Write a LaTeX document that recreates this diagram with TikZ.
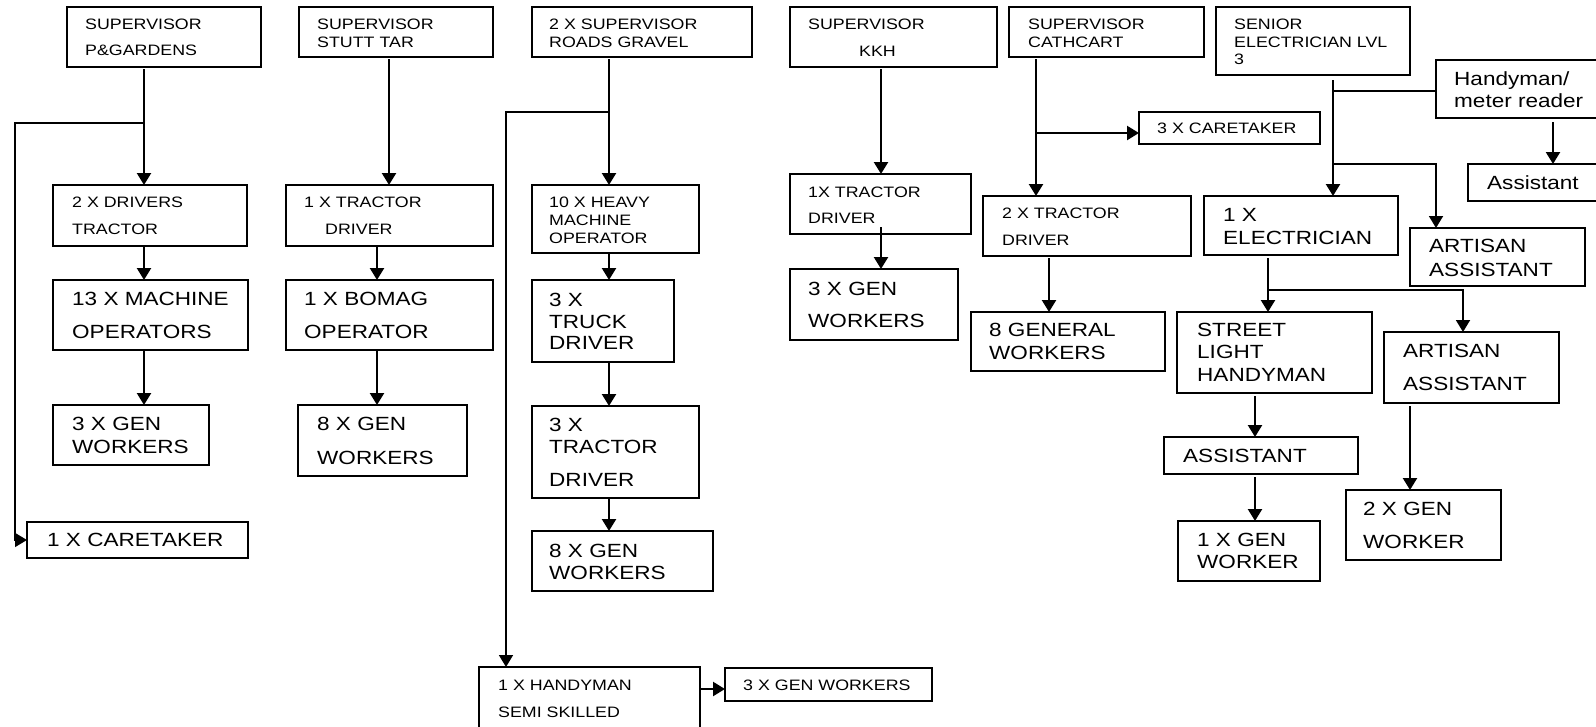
\documentclass[tikz,border=0pt]{standalone}
\usepackage{fontspec}
\setmainfont{Liberation Sans}[FakeStretch=1.18]
\usetikzlibrary{arrows.meta}

\tikzset{
  x=1pt, y=-1pt,
  box/.style={draw=black, line width=1.3pt, fill=white, inner sep=0pt, outer sep=0pt, anchor=north west},
  sm/.style={font=\fontsize{15.1}{18}\selectfont, inner sep=0pt, anchor=base west, yshift=-5.4pt},
  lg/.style={font=\fontsize{19.1}{23}\selectfont, inner sep=0pt, anchor=base west, yshift=-6.8pt},
  headtip/.style={-{Triangle[length=12pt 0 0,width=14pt 0 0]}},
  arr/.style={line width=2.3pt, headtip},
  link/.style={line width=1.4pt},
}

% box: name, left, top, right, bottom
\newcommand\orgbox[5]{\node[box, minimum width={(#4-#2)*1pt}, minimum height={(#5-#3)*1pt}] (#1) at (#2,#3) {};}
% one text line: name, style, x, y (middle of capitals), text
\newcommand\tline[5]{\node[#2] (#1) at (#3,#4) {#5};}

\begin{document}
\begin{tikzpicture}
\useasboundingbox (0,0) rectangle (1596,726);
\fill[white] (0,0) rectangle (1596,726);
\clip (0,0) rectangle (1596,726);

% ---------- Parks & gardens ----------
\orgbox{b1}{67}{7}{261}{67}
\tline{b1a}{sm}{85}{24}{SUPERVISOR}
\tline{b1b}{sm}{85}{50}{P\&GARDENS}
\orgbox{b2}{53}{185}{247}{246}
\tline{b2a}{sm}{72}{202}{2 X DRIVERS}
\tline{b2b}{sm}{72}{229}{TRACTOR}
\orgbox{b3}{53}{280}{248}{350}
\tline{b3a}{lg}{72}{299}{13 X MACHINE}
\tline{b3b}{lg}{72}{332}{OPERATORS}
\orgbox{b4}{53}{405}{209}{465}
\tline{b4a}{lg}{72}{424}{3 X GEN}
\tline{b4b}{lg}{72}{447}{WORKERS}
\orgbox{b5}{27}{522}{248}{558}
\tline{b5a}{lg}{47}{540}{1 X CARETAKER}

% ---------- Stutt tar ----------
\orgbox{c1}{299}{7}{493}{57}
\tline{c1a}{sm}{317}{24}{SUPERVISOR}
\tline{c1b}{sm}{317}{42}{STUTT TAR}
\orgbox{c2}{286}{185}{493}{246}
\tline{c2a}{sm}{304}{202}{1 X TRACTOR}
\tline{c2b}{sm}{325}{229}{DRIVER}
\orgbox{c3}{286}{280}{493}{350}
\tline{c3a}{lg}{304}{299}{1 X BOMAG}
\tline{c3b}{lg}{304}{332}{OPERATOR}
\orgbox{c4}{298}{405}{467}{476}
\tline{c4a}{lg}{317}{424}{8 X GEN}
\tline{c4b}{lg}{317}{458}{WORKERS}

% ---------- Roads gravel ----------
\orgbox{r1}{532}{7}{752}{57}
\tline{r1a}{sm}{549}{24}{2 X SUPERVISOR}
\tline{r1b}{sm}{549}{42}{ROADS GRAVEL}
\orgbox{r2}{532}{185}{699}{253}
\tline{r2a}{sm}{549}{202}{10 X HEAVY}
\tline{r2b}{sm}{549}{220}{MACHINE}
\tline{r2c}{sm}{549}{238}{OPERATOR}
\orgbox{r3}{532}{280}{674}{362}
\tline{r3a}{lg}{549}{300}{3 X}
\tline{r3b}{lg}{549}{322}{TRUCK}
\tline{r3c}{lg}{549}{343}{DRIVER}
\orgbox{r4}{532}{406}{699}{498}
\tline{r4a}{lg}{549}{425}{3 X}
\tline{r4b}{lg}{549}{447}{TRACTOR}
\tline{r4c}{lg}{549}{480}{DRIVER}
\orgbox{r5}{532}{531}{713}{591}
\tline{r5a}{lg}{549}{551}{8 X GEN}
\tline{r5b}{lg}{549}{573}{WORKERS}
\orgbox{r6}{479}{667}{700}{745}
\tline{r6a}{sm}{498}{685}{1 X HANDYMAN}
\tline{r6b}{sm}{498}{712}{SEMI SKILLED}
\orgbox{r7}{725}{668}{932}{701}
\tline{r7a}{sm}{743}{685}{3 X GEN WORKERS}

% ---------- KKH ----------
\orgbox{k1}{790}{7}{997}{67}
\tline{k1a}{sm}{808}{24}{SUPERVISOR}
\tline{k1b}{sm}{859}{51}{KKH}
\orgbox{k2}{790}{174}{971}{234}
\tline{k2a}{sm}{808}{192}{1X TRACTOR}
\tline{k2b}{sm}{808}{218}{DRIVER}
\orgbox{k3}{790}{269}{958}{340}
\tline{k3a}{lg}{808}{289}{3 X GEN}
\tline{k3b}{lg}{808}{321}{WORKERS}

% ---------- Cathcart ----------
\orgbox{t1}{1009}{7}{1204}{57}
\tline{t1a}{sm}{1028}{24}{SUPERVISOR}
\tline{t1b}{sm}{1028}{42}{CATHCART}
\orgbox{t2}{1139}{112}{1320}{144}
\tline{t2a}{sm}{1157}{128}{3 X CARETAKER}
\orgbox{t3}{983}{196}{1191}{256}
\tline{t3a}{sm}{1002}{213}{2 X TRACTOR}
\tline{t3b}{sm}{1002}{240}{DRIVER}
\orgbox{t4}{971}{312}{1165}{371}
\tline{t4a}{lg}{989}{330}{8 GENERAL}
\tline{t4b}{lg}{989}{353}{WORKERS}

% ---------- Electrical ----------
\orgbox{e1}{1216}{7}{1410}{75}
\tline{e1a}{sm}{1234}{24}{SENIOR}
\tline{e1b}{sm}{1234}{42}{ELECTRICIAN LVL}
\tline{e1c}{sm}{1234}{59}{3}
\orgbox{e2}{1436}{60}{1610}{118}
\tline{e2a}{lg}{1454}{79}{Handyman/}
\tline{e2b}{lg}{1454}{101}{meter reader}
\orgbox{e3}{1468}{164}{1610}{201}
\tline{e3a}{lg}{1487}{183}{Assistant}
\orgbox{e4}{1204}{196}{1398}{255}
\tline{e4a}{lg}{1223}{215}{1 X}
\tline{e4b}{lg}{1223}{238}{ELECTRICIAN}
\orgbox{e5}{1410}{228}{1585}{286}
\tline{e5a}{lg}{1429}{246}{ARTISAN}
\tline{e5b}{lg}{1429}{270}{ASSISTANT}
\orgbox{e6}{1177}{312}{1372}{393}
\tline{e6a}{lg}{1197}{330}{STREET}
\tline{e6b}{lg}{1197}{352}{LIGHT}
\tline{e6c}{lg}{1197}{375}{HANDYMAN}
\orgbox{e7}{1384}{332}{1559}{403}
\tline{e7a}{lg}{1403}{351}{ARTISAN}
\tline{e7b}{lg}{1403}{384}{ASSISTANT}
\orgbox{e8}{1164}{437}{1358}{474}
\tline{e8a}{lg}{1183}{456}{ASSISTANT}
\orgbox{e9}{1178}{521}{1320}{581}
\tline{e9a}{lg}{1197}{540}{1 X GEN}
\tline{e9b}{lg}{1197}{562}{WORKER}
\orgbox{e10}{1346}{490}{1501}{560}
\tline{e10a}{lg}{1363}{509}{2 X GEN}
\tline{e10b}{lg}{1363}{542}{WORKER}

% ---------- connectors ----------
% parks & gardens
\coordinate (pgA) at (144,69);
\coordinate (pgJ) at (144,123);
\coordinate (pgL) at (15,123);
\draw[arr] (pgA) -- (pgA |- b2.north);
\draw[link, headtip] (pgJ) -- (pgL) |- (b5.west);
\draw[arr] (b2.south -| pgA) -- (b3.north -| pgA);
\draw[arr] (b3.south -| pgA) -- (b4.north -| pgA);

% stutt tar
\coordinate (stA) at (389,59);
\coordinate (stB) at (377,0);
\draw[arr] (stA) -- (stA |- c2.north);
\draw[arr] (c2.south -| stB) -- (c3.north -| stB);
\draw[arr] (c3.south -| stB) -- (c4.north -| stB);

% roads gravel
\coordinate (rgA) at (609,59);
\coordinate (rgJ) at (609,112);
\coordinate (rgL) at (506,112);
\coordinate (hgY) at (0,689);
\draw[arr] (rgA) -- (rgA |- r2.north);
\draw[link, line width=1.8pt, headtip] (rgJ) -- (rgL) -- (rgL |- r6.north);
\draw[arr] (r2.south -| rgA) -- (r3.north -| rgA);
\draw[arr] (r3.south -| rgA) -- (r4.north -| rgA);
\draw[arr] (r4.south -| rgA) -- (r5.north -| rgA);
\draw[arr] (r6.east |- hgY) -- (r7.west |- hgY);

% KKH
\coordinate (kkA) at (881,69);
\coordinate (kkB) at (881,227);
\draw[arr] (kkA) -- (kkA |- k2.north);
\draw[arr] (kkB) -- (kkB |- k3.north);

% cathcart
\coordinate (caA) at (1036,59);
\coordinate (caJ) at (1036,133);
\coordinate (caB) at (1049,258);
\draw[arr] (caA) -- (caA |- t3.north);
\draw[arr] (caJ) -- (caJ -| t2.west);
\draw[arr] (caB) -- (caB |- t4.north);

% electrical
\coordinate (elA) at (1333,80);
\coordinate (elH) at (1333,91);
\coordinate (elJ) at (1333,164);
\coordinate (elK) at (1436,164);
\coordinate (hmA) at (1553,122);
\coordinate (elB) at (1268,258);
\coordinate (elM) at (1268,290);
\coordinate (elN) at (1463,290);
\coordinate (slA) at (1255,396);
\coordinate (aaA) at (1410,406);
\draw[arr] (elA) -- (elA |- e4.north);
\draw[link] (elH) -- (elH -| e2.west);
\draw[link, line width=1.8pt, headtip] (elJ) -- (elK) -- (elK |- e5.north);
\draw[arr] (hmA) -- (hmA |- e3.north);
\draw[arr] (elB) -- (elB |- e6.north);
\draw[link, line width=1.8pt, headtip] (elM) -- (elN) -- (elN |- e7.north);
\draw[arr] (slA) -- (slA |- e8.north);
\draw[arr] ([yshift=-3pt]slA |- e8.south) -- (slA |- e9.north);
\draw[arr] (aaA) -- (aaA |- e10.north);
\end{tikzpicture}
\end{document}
